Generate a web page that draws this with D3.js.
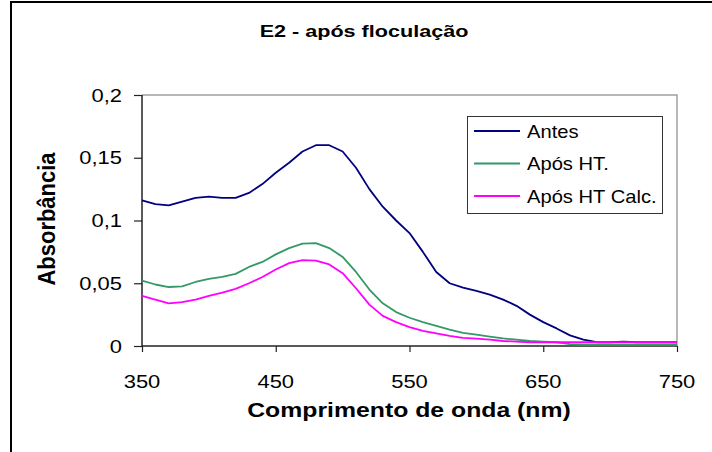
<!DOCTYPE html>
<html>
<head>
<meta charset="utf-8">
<script src="https://cdn.jsdelivr.net/npm/d3@7"></script>
<style>
  html, body { margin: 0; padding: 0; background: #fff; }
  svg { display: block; }
  text { font-family: "Liberation Sans", Arial, sans-serif; fill: #000; }
</style>
</head>
<body>
<svg id="chart" width="712" height="452"></svg>
<script>
// Absorbance spectra (wavelength in nm)
const wavelengths = [350,360,370,380,390,400,410,420,430,440,450,460,470,480,490,500,510,520,530,540,550,
                     560,570,580,590,600,610,620,630,640,650,660,670,680,690,700,710,720,730,740,750];
const antes = [0.116,0.113,0.112,0.115,0.118,0.119,0.118,0.118,0.122,0.129,0.138,0.146,0.155,0.160,0.160,0.155,0.142,0.125,0.111,0.100,0.090,
               0.075,0.059,0.050,0.0465,0.044,0.041,0.037,0.032,0.025,0.019,0.014,0.0085,0.005,0.003,0.003,0.0035,0.003,0.003,0.003,0.003];
const aposHT = [0.052,0.049,0.047,0.0475,0.051,0.0535,0.055,0.0575,0.063,0.067,0.073,0.078,0.0815,0.082,0.078,0.071,0.059,0.045,0.034,0.027,0.0225,
                0.019,0.016,0.013,0.0105,0.009,0.0075,0.006,0.005,0.004,0.0035,0.003,0.0015,0.001,0.001,0.001,0.001,0.001,0.001,0.001,0.001];
const aposHTCalc = [0.040,0.037,0.034,0.035,0.037,0.040,0.0425,0.0455,0.050,0.055,0.061,0.066,0.0685,0.068,0.065,0.058,0.046,0.033,0.024,0.019,0.015,
                    0.012,0.010,0.008,0.0065,0.0058,0.005,0.004,0.0035,0.003,0.003,0.003,0.003,0.003,0.003,0.003,0.003,0.003,0.003,0.003,0.003];

const seriesNames = ["Antes", "Após HT.", "Após HT Calc."];
const seriesColors = ["#000080", "#339966", "#FF00FF"];
const xTicks = [350, 450, 550, 650, 750];
const yTicks = [0, 0.05, 0.1, 0.15, 0.2];
const yTickLabels = ["0", "0,05", "0,1", "0,15", "0,2"];

const svg = d3.select("#chart");
const plot = { left: 142, right: 677, top: 95, bottom: 346 };

const x = d3.scaleLinear().domain([350, 750]).range([plot.left, plot.right]);
const y = d3.scaleLinear().domain([0, 0.2]).range([plot.bottom, plot.top]);

// text drawn with a horizontal stretch
function label(parent, px, py, str, o) {
  const g = parent.append("g")
    .attr("transform", `translate(${px},${py}) scale(${o.sx || 1},1)`);
  return g.append("text")
    .attr("text-anchor", o.anchor || "start")
    .attr("font-size", o.size)
    .attr("font-weight", o.weight || "normal")
    .text(str);
}

// outer frame
svg.append("path")
  .attr("d", "M11,452V2H712")
  .attr("fill", "none").attr("stroke", "#000").attr("stroke-width", 2);

// plot frame: top and right edges
svg.append("path")
  .attr("d", `M${plot.left},${plot.top}H${plot.right}V${plot.bottom}`)
  .attr("fill", "none").attr("stroke", "#a0a0a0").attr("stroke-width", 1.5);

// title
label(svg, 364, 37, "E2 - após floculação", { size: 17, weight: "bold", anchor: "middle", sx: 1.27 });

// axes
const yAxis = d3.axisLeft(y).tickValues(yTicks).tickSize(8).tickFormat(() => "");
const xAxis = d3.axisBottom(x).tickValues(xTicks).tickSize(6).tickFormat(() => "");
const gy = svg.append("g").attr("transform", `translate(${plot.left},0)`).call(yAxis);
const gx = svg.append("g").attr("transform", `translate(0,${plot.bottom})`).call(xAxis);
[gx, gy].forEach(g => {
  g.select(".domain").attr("stroke", "#222").attr("stroke-width", 1.5);
  g.selectAll(".tick line").attr("stroke", "#222").attr("stroke-width", 1.2);
});
gy.select(".domain").attr("d", `M0,${plot.top}V${plot.bottom}`);
gx.select(".domain").attr("d", `M${plot.left},0H${plot.right}`);

// tick labels
yTicks.forEach((v, i) => {
  label(svg, 122, y(v) + 6.5, yTickLabels[i], { size: 18, anchor: "end", sx: 1.22 });
});
xTicks.forEach(v => {
  label(svg, x(v), 388, String(v), { size: 18, anchor: "middle", sx: 1.22 });
});

// axis titles
label(svg, 409, 417, "Comprimento de onda (nm)", { size: 20, weight: "bold", anchor: "middle", sx: 1.24 });
svg.append("g")
  .attr("transform", "translate(55,219) rotate(-90) scale(1,1.1)")
  .append("text")
  .attr("text-anchor", "middle")
  .attr("font-size", 22)
  .attr("font-weight", "bold")
  .text("Absorbância");

// spectra
const line = d3.line()
  .x(d => x(d[0]))
  .y(d => y(d[1]));
const seriesData = [antes, aposHT, aposHTCalc];
seriesData.forEach((vals, i) => {
  svg.append("path")
    .datum(wavelengths.map((w, j) => [w, vals[j]]))
    .attr("fill", "none")
    .attr("stroke", seriesColors[i])
    .attr("stroke-width", 1.8)
    .attr("stroke-linejoin", "round")
    .attr("d", line);
});

// legend
const legend = svg.append("g");
legend.append("rect")
  .attr("x", 467.5).attr("y", 116.5).attr("width", 195).attr("height", 97)
  .attr("fill", "#fff").attr("stroke", "#333").attr("stroke-width", 1);
seriesNames.forEach((name, i) => {
  const ry = 131 + i * 32.5;
  legend.append("line")
    .attr("x1", 474).attr("x2", 520).attr("y1", ry).attr("y2", ry)
    .attr("stroke", seriesColors[i]).attr("stroke-width", 1.8);
  label(legend, 527, ry + 6.5, name, { size: 18, sx: 1.12 });
});
</script>
</body>
</html>
